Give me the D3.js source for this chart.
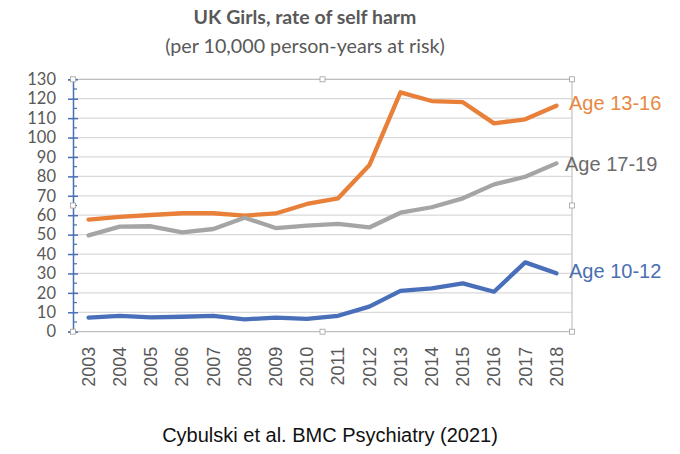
<!DOCTYPE html>
<html><head><meta charset="utf-8">
<script src="https://cdn.jsdelivr.net/npm/d3@7"></script>
<style>body{margin:0;background:#fff}svg{display:block}</style>
</head><body>
<svg id="c" width="680" height="454"></svg>
<script>
const years = ["2003","2004","2005","2006","2007","2008","2009","2010","2011","2012","2013","2014","2015","2016","2017","2018"];
const age13_16 = [57.7,59.1,60.1,61,61,59.8,60.9,65.8,68.7,85.7,123.3,118.8,118.2,107.3,109.4,116.4];
const age17_19 = [49.6,54.1,54.3,51.2,52.9,58.7,53.4,54.6,55.5,53.7,61.3,64.1,68.7,75.9,79.8,86.7];
const age10_12 = [7.2,8.1,7.4,7.7,8.1,6.4,7.2,6.6,8.2,12.9,21,22.3,24.9,20.6,35.7,30.1];
const seriesNames = ["Age 13-16","Age 17-19","Age 10-12"];
const yTicks = [0,10,20,30,40,50,60,70,80,90,100,110,120,130];

const svg = d3.select("#c");
const L = 73, R = 572, T = 79.3, B = 331.7;
const x = d3.scaleBand().domain(years).range([L, R]);
const y = d3.scaleLinear().domain([0,130]).range([B, T]);
const cx = d => x(d) + x.bandwidth()/2;

// gridlines
svg.append("g").selectAll("line").data(yTicks.filter(t=>t>0)).join("line")
  .attr("x1", L).attr("x2", R).attr("y1", d=>y(d)).attr("y2", d=>y(d))
  .attr("stroke", "#d9d9d9").attr("stroke-width", 1.3);
// frame
svg.append("line").attr("x1",R).attr("x2",R).attr("y1",T).attr("y2",B).attr("stroke","#c8c8c8").attr("stroke-width",1.3);
svg.append("line").attr("x1",L).attr("x2",R).attr("y1",B).attr("y2",B).attr("stroke","#bfbfbf").attr("stroke-width",1.3);
svg.append("line").attr("x1",L).attr("x2",R).attr("y1",T).attr("y2",T).attr("stroke","#bfbfbf").attr("stroke-width",1.3);

// y axis (blue with minor ticks)
const axisColor = "#4a6fb5";
const yAxis = svg.append("g").attr("transform", `translate(${L},0)`)
  .call(d3.axisLeft(y).tickValues(yTicks).tickSize(5).tickPadding(12));
yAxis.select(".domain").attr("stroke", axisColor).attr("stroke-width", 1.5);
yAxis.selectAll(".tick line").attr("stroke", axisColor).attr("stroke-width", 1.5).attr("x1", 5).attr("x2", -5);
yAxis.selectAll(".tick text").attr("fill", "#595959").style("font-family","Lato, 'Open Sans', sans-serif").style("font-size","16.5px");
const minor = d3.range(5, 130, 10);
svg.append("g").selectAll("line").data(minor).join("line")
  .attr("x1", L).attr("x2", L+4).attr("y1", d=>y(d)).attr("y2", d=>y(d))
  .attr("stroke", axisColor).attr("stroke-width", 1.2);

// x axis labels
const xAxis = svg.append("g").attr("transform", `translate(0,${B})`)
  .call(d3.axisBottom(x).tickSize(0).tickPadding(0));
xAxis.select(".domain").remove();
xAxis.selectAll(".tick text")
  .attr("transform", "rotate(-90)")
  .attr("x", -15).attr("y", 0).attr("dy", "0.35em")
  .attr("text-anchor", "end")
  .attr("fill", "#595959")
  .style("font-family", "'Liberation Sans', Arial, sans-serif").style("font-size", "18px");

// lines
const colors = ["#e8803a", "#a5a5a5", "#4a6fba"];
const labelColors = ["#e8883f", "#6b6b6b", "#4a6fb0"];
const data = [age13_16, age17_19, age10_12];
const line = d3.line().x((d,i)=>cx(years[i])).y(d=>y(d));
svg.append("g").selectAll("path").data(data).join("path")
  .attr("d", line).attr("fill","none")
  .attr("stroke", (d,i)=>colors[i]).attr("stroke-width", 4.3)
  .attr("stroke-linejoin","round").attr("stroke-linecap","round");

// series labels
const labelPos = [[569,103],[565,164],[569,271]];
svg.append("g").selectAll("text").data(seriesNames).join("text")
  .attr("x",(d,i)=>labelPos[i][0]).attr("y",(d,i)=>labelPos[i][1]).attr("dy","0.35em")
  .attr("fill",(d,i)=>labelColors[i])
  .style("font-family","'Liberation Sans', Arial, sans-serif").style("font-size","20px")
  .text(d=>d);

// selection handles
const hx = [L, (L+R)/2, R], hy = [T, (T+B)/2, B];
const handles = [];
hx.forEach((a,i)=>hy.forEach((b,j)=>{ if(!(i===1&&j===1)) handles.push([a,b]); }));
svg.append("g").selectAll("rect").data(handles).join("rect")
  .attr("x",d=>d[0]-2.5).attr("y",d=>d[1]-2.5).attr("width",5).attr("height",5)
  .attr("fill","#fff").attr("stroke","#a0a0a0").attr("stroke-width",0.8);

// titles
svg.append("text").attr("x",305).attr("y",24).attr("text-anchor","middle")
  .attr("fill","#595959").style("font-family","Lato, 'Open Sans', sans-serif")
  .style("font-weight","bold").style("font-size","19.5px").text("UK Girls, rate of self harm");
svg.append("text").attr("x",305).attr("y",53).attr("text-anchor","middle")
  .attr("fill","#595959").style("font-family","Lato, 'Open Sans', sans-serif")
  .style("font-size","19.7px").text("(per 10,000 person-years at risk)");
svg.append("text").attr("x",330).attr("y",442).attr("text-anchor","middle")
  .attr("fill","#111").style("font-family","'Liberation Sans', Arial, sans-serif")
  .style("font-size","20px").text("Cybulski et al. BMC Psychiatry (2021)");
</script>
</body></html>
